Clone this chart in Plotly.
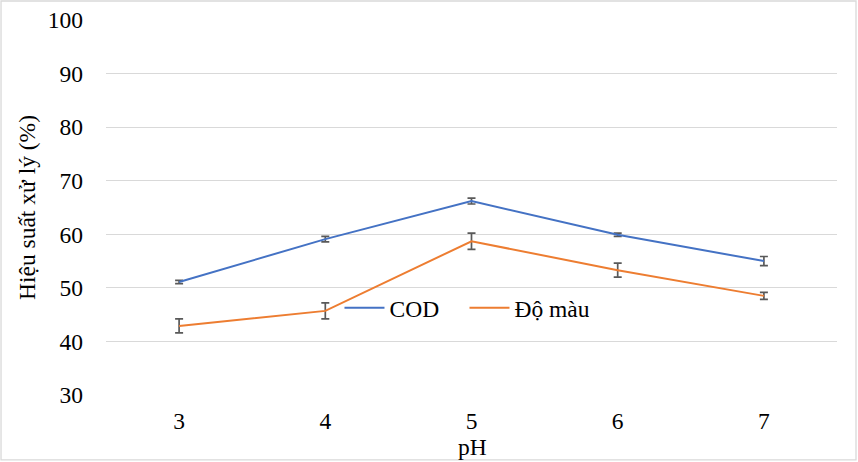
import plotly.graph_objects as go

ph = ["3", "4", "5", "6", "7"]
cod = [51.1, 59.1, 66.2, 59.9, 55.0]
cod_err = [0.3, 0.5, 0.55, 0.3, 0.85]
mau = [42.9, 45.7, 58.7, 53.3, 48.5]
mau_err = [1.3, 1.5, 1.5, 1.3, 0.65]

font = "Liberation Serif"
fs = 23.5
err_color = "#595959"

fig = go.Figure()
fig.add_trace(go.Scatter(
    x=ph, y=cod, name="COD", mode="lines",
    line=dict(color="#4472C4", width=2),
    error_y=dict(type="data", array=cod_err, visible=True, color=err_color, thickness=1.7, width=4),
))
fig.add_trace(go.Scatter(
    x=ph, y=mau, name="Độ màu", mode="lines",
    line=dict(color="#ED7D31", width=2),
    error_y=dict(type="data", array=mau_err, visible=True, color=err_color, thickness=1.7, width=4),
))

fig.update_layout(
    width=858, height=462,
    margin=dict(l=106, r=21, t=20, b=67, autoexpand=False),
    paper_bgcolor="white", plot_bgcolor="white",
    font=dict(family=font, size=fs, color="#000000"),
    showlegend=True,
    legend=dict(orientation="h", x=0.4904, y=0.232, xanchor="center", yanchor="middle",
                bgcolor="rgba(0,0,0,0)", font=dict(size=fs, family=font), itemwidth=40,
                entrywidth=70, entrywidthmode="pixels", tracegroupgap=0),
    xaxis=dict(
        type="category", range=[-0.5, 4.5], showgrid=False, zeroline=False,
        showline=False, ticks="", tickfont=dict(size=fs, family=font),
        ticklabelstandoff=9, automargin=False,
    ),
    yaxis=dict(
        range=[30, 100], dtick=10, tick0=30, showgrid=True, gridcolor="#D9D9D9",
        gridwidth=1.3, zeroline=False, showline=False, ticks="",
        ticklabelstandoff=22, automargin=False,
        tickfont=dict(size=fs, family=font),
        title=dict(text="Hiệu suất xử lý (%)", standoff=5, font=dict(size=fs, family=font)),
    ),
    annotations=[dict(text="pH", xref="paper", yref="paper", x=0.5007, y=-0.139,
                      xanchor="center", yanchor="middle", showarrow=False,
                      font=dict(size=fs, family=font))],
    shapes=[dict(type="rect", xref="paper", yref="paper",
                 x0=-0.1436, x1=1.026, y0=-0.173, y1=1.0507,
                 line=dict(color="#D9D9D9", width=1.3), fillcolor="rgba(0,0,0,0)", layer="below")],
)

fig.write_html("out.html", config={"displayModeBar": False},
               post_script="document.body.style.margin='0';document.body.style.padding='0';")
